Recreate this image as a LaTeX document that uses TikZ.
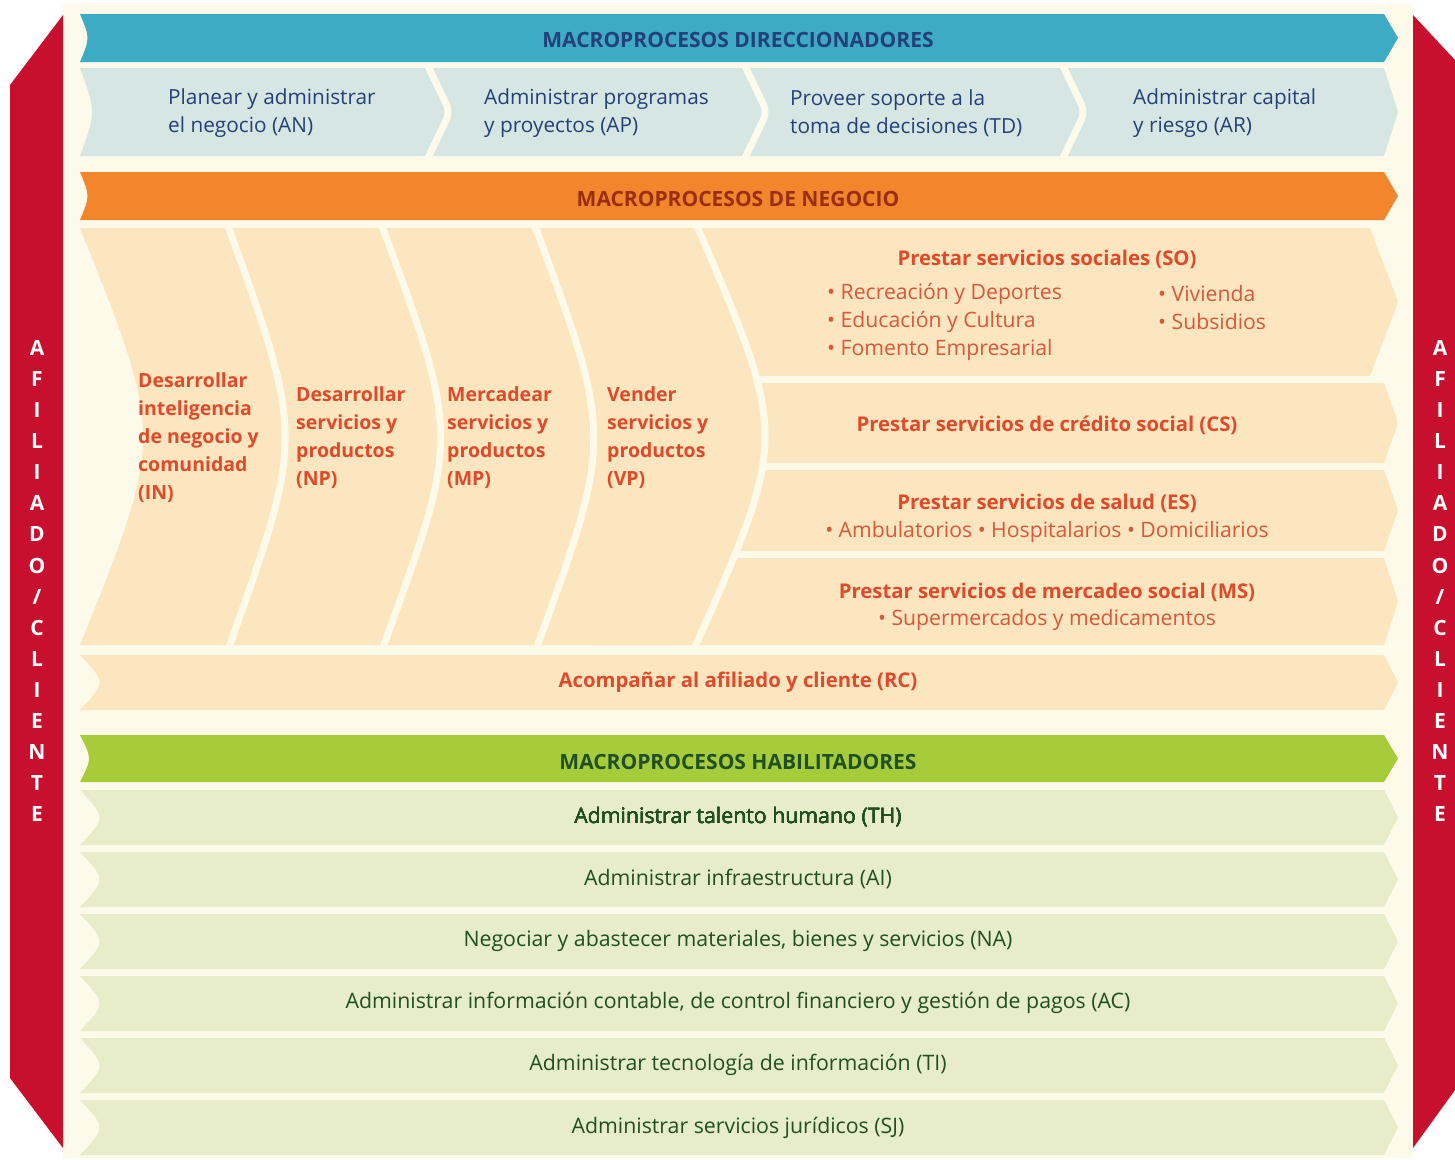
\documentclass[tikz,border=0pt]{standalone}
\usepackage{fontspec}
\setmainfont{Open Sans}

\definecolor{crema}{HTML}{FDFAEA}
\definecolor{rojo}{HTML}{C8102E}
\definecolor{azul}{HTML}{3DABC3}
\definecolor{azulclaro}{HTML}{D6E6E2}
\definecolor{naranja}{HTML}{F2862A}
\definecolor{durazno}{HTML}{FCE6BF}
\definecolor{verde}{HTML}{A6CC3A}
\definecolor{verdeclaro}{HTML}{E6EDC8}
\definecolor{txazul}{HTML}{24407A}
\definecolor{txrojo}{HTML}{DF4A2B}
\definecolor{txvineta}{HTML}{D9573A}
\definecolor{txmarron}{HTML}{9B2E12}
\definecolor{txverde}{HTML}{1F4F22}

% franja con hueco a la izquierda y punta a la derecha
\newcommand{\franja}[6][80]{%
  \fill[#2] (#1,#3) -- ({1398-#6},#3) -- (1398,{(#3+#4)/2}) -- ({1398-#6},#4) -- (#1,#4)
    .. controls ({#1+2*#5},{(#3+#4)/2}) .. (#1,#3) -- cycle;}

\begin{document}
\begin{tikzpicture}[x=1pt,y=-1pt,
  every node/.style={inner sep=0pt},
  encabezado/.style={font=\bfseries\fontsize{21}{24}\selectfont},
  direc/.style={font=\fontsize{20.8}{28}\selectfont,text=txazul,align=left,anchor=west},
  negocio/.style={font=\bfseries\fontsize{19.5}{28}\selectfont,text=txrojo,align=left,anchor=west},
  servicio/.style={font=\bfseries\fontsize{20.3}{28}\selectfont,text=txrojo},
  vineta/.style={font=\fontsize{21.2}{28}\selectfont,text=txvineta,align=left},
  habil/.style={font=\fontsize{21.3}{28}\selectfont,text=txverde},
  letras/.style={font=\bfseries\fontsize{21}{31.07}\selectfont,text=white,align=center},
  corte/.style={draw=crema,line width=7pt}]

\useasboundingbox (0,0) rectangle (1455,1159);
\fill[white] (0,0) rectangle (1455,1159);
\fill[crema] (63,4) rectangle (1413,1158);

% barras laterales
\fill[rojo] (10,85) -- (63,15) -- (63,1148) -- (10,1078) -- cycle;
\fill[rojo] (1413,15) -- (1455,60) -- (1455,1090) -- (1413,1148) -- cycle;
\node[letras] (afiliado-izq) at (37,581) {A\\F\\I\\L\\I\\A\\D\\O\\/\\C\\L\\I\\E\\N\\T\\E};
\node[letras] (afiliado-der) at (1440,581) {A\\F\\I\\L\\I\\A\\D\\O\\/\\C\\L\\I\\E\\N\\T\\E};

% direccionadores
\franja{azul}{14}{62}{5}{14}
\node[encabezado,text=txazul] (direccionadores) at (738,40) {MACROPROCESOS DIRECCIONADORES};
\franja{azulclaro}{68}{156}{8}{14}
\foreach \x in {428,745,1063}
  \draw[corte,rounded corners=8pt] (\x,66) -- (\x+22,112) -- (\x,158);
\node[direc] (AN) at (168,113) {Planear y administrar\\el negocio (AN)};
\node[direc] (AP) at (484,113) {Administrar programas\\y proyectos (AP)};
\node[direc] (TD) at (790,113) {Proveer soporte a la\\toma de decisiones (TD)};
\node[direc] (AR) at (1133,113) {Administrar capital\\y riesgo (AR)};

% negocio
\franja{naranja}{172}{220}{5}{14}
\node[encabezado,text=txmarron] (negocio) at (738,199) {MACROPROCESOS DE NEGOCIO};
\franja[600]{durazno}{228}{376}{0}{28}
\franja[600]{durazno}{383}{463}{0}{14}
\franja[600]{durazno}{470}{551}{0}{14}
\franja[600]{durazno}{558}{645}{0}{14}
\fill[durazno] (80,228) -- (697,228) .. controls (788,437) .. (695,645) -- (80,645)
  .. controls (164,437) .. (80,228) -- cycle;
\draw[corte] (228,226) .. controls (304,437) .. (229,647);
\draw[corte] (382,226) .. controls (460,437) .. (383,647);
\draw[corte] (535,226) .. controls (613,437) .. (537,647);
\draw[corte] (697,226) .. controls (788,437) .. (695,647);

\node[negocio] (IN) at (138,438) {Desarrollar\\inteligencia\\de negocio y\\comunidad\\(IN)};
\node[negocio] (NP) at (296,438) {Desarrollar\\servicios y\\productos\\(NP)};
\node[negocio] (MP) at (447,438) {Mercadear\\servicios y\\productos\\(MP)};
\node[negocio] (VP) at (607,438) {Vender\\servicios y\\productos\\(VP)};

\node[servicio] (SO) at (1047,259) {Prestar servicios sociales (SO)};
\node[vineta,anchor=west] (SO-a) at (827,322) {• Recreación y Deportes\\• Educación y Cultura\\• Fomento Empresarial};
\node[vineta,anchor=west] (SO-b) at (1158,308) {• Vivienda\\• Subsidios};
\node[servicio] (CS) at (1047,425) {Prestar servicios de crédito social (CS)};
\node[servicio] (ES) at (1047,503) {Prestar servicios de salud (ES)};
\node[vineta] (ES-a) at (1047,532) {• Ambulatorios • Hospitalarios • Domiciliarios};
\node[servicio] (MS) at (1047,592) {Prestar servicios de mercadeo social (MS)};
\node[vineta] (MS-a) at (1047,620) {• Supermercados y medicamentos};

\franja{durazno}{655}{710}{13}{14}
\node[servicio] (RC) at (738,682) {Acompañar al afiliado y cliente (RC)};

% habilitadores
\franja{verde}{735}{782}{6}{14}
\node[encabezado,text=txverde] (habilitadores) at (738,762) {MACROPROCESOS HABILITADORES};
\foreach \y in {790,852,914,976,1038,1100}
  \franja{verdeclaro}{\y}{\y+55}{13}{14}
\node[habil] (TH) at (738,817) {Administrar talento humano (TH)};
\node[habil] (AI) at (738,879) {Administrar infraestructura (AI)};
\node[habil] (NA) at (738,941) {Negociar y abastecer materiales, bienes y servicios (NA)};
\node[habil] (AC) at (738,1003) {Administrar información contable, de control financiero y gestión de pagos (AC)};
\node[habil] (TI) at (738,1065) {Administrar tecnología de información (TI)};
\node[habil] (SJ) at (738,1128) {Administrar servicios jurídicos (SJ)};
\end{tikzpicture}
\end{document}
